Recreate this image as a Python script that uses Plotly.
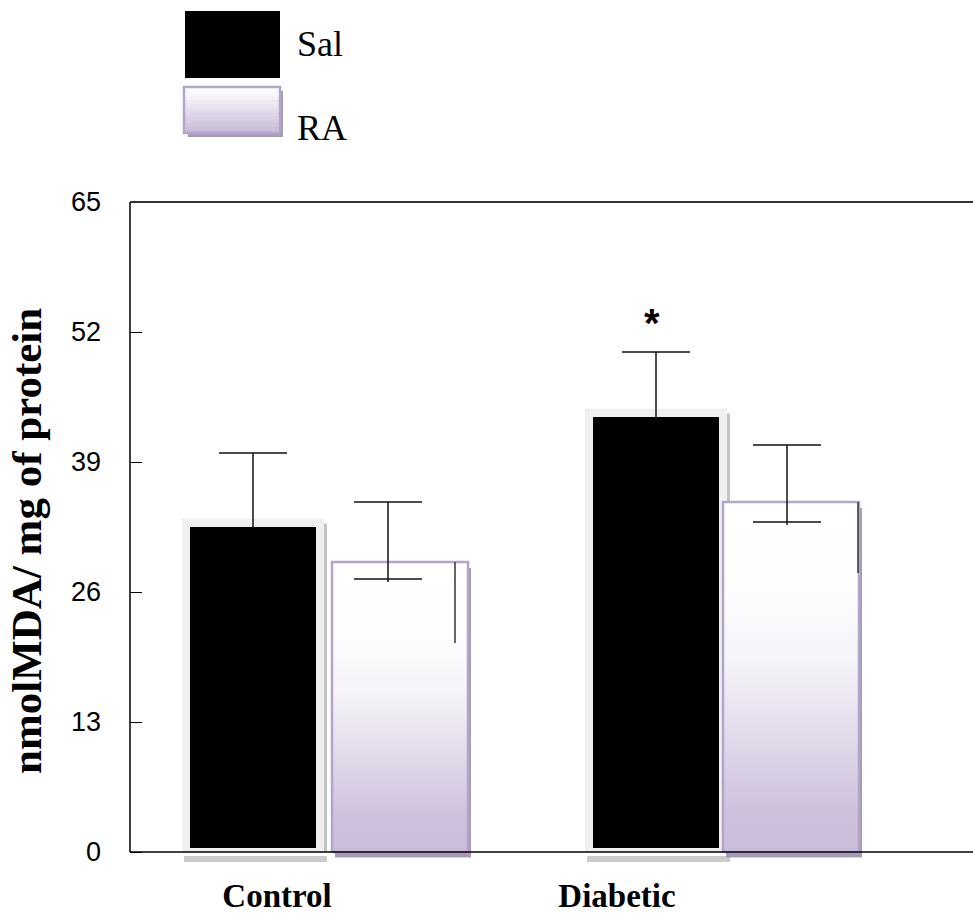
import plotly.graph_objects as go

# ---------------- data ----------------
groups = ["Control", "Diabetic"]
series = ["Sal", "RA"]
sal_mean = [32.5, 43.5]
sal_sem = [7.4, 6.5]
ra_mean = [29.0, 35.0]
ra_sem_up = [6.0, 5.7]
ra_sem_low = [1.7, 2.0]
ra_trail_low = [8.1, 7.1]
signif = ["", "*"]
y_ticks = [0, 13, 26, 39, 52, 65]

# ---------------- layout constants (x in plot-pixel units) ----------------
M_L, M_R, M_T, M_B = 130, 0, 202, 58
FIG_W, FIG_H = 973, 921
PW = FIG_W - M_L - M_R
PH = FIG_H - M_T - M_B
Y_MIN, Y_MAX = -1.1, 65
group_label_x = [147, 487]
sal_center = [123, 526]
ra_center = [270, 661]
SAL_HALF = 63
FRAME_HALF = 71
RA_HALF = 68
ra_err_x = [258, 657]
ra_trail_x = [325, 728]
CAP_HALF = 34

GRAD = [[0, '#cbbcda'], [0.12, '#cfc1dd'], [0.35, '#e4dcec'],
        [0.55, '#f6f3f9'], [0.75, '#fdfdfe'], [1, '#ffffff']]
PURPLE = '#b4a5cd'
PSHADOW = '#a59db5'


def rect(x0, x1, y0, y1):
    return [x0, x1, x1, x0, x0], [y0, y0, y1, y1, y0]


def px_x(px):
    return (px - M_L) / PW


def px_y(py):
    return (FIG_H - M_B - py) / PH


fig = go.Figure()


def add_poly(xs, ys, fill, line_color=None, line_w=0):
    fig.add_trace(go.Scatter(
        x=xs, y=ys, mode='lines', fill='toself', fillcolor=fill,
        line=dict(color=line_color or fill, width=line_w),
        hoverinfo='skip', showlegend=False))


# Sal bars (black with light frame and shadow)
for i, g in enumerate(groups):
    c, m = sal_center[i], sal_mean[i]
    xs, ys = rect(c + FRAME_HALF, c + FRAME_HALF + 3, 0, m + 0.35)
    add_poly(xs, ys, '#c4c4c4')
    xs, ys = rect(c - FRAME_HALF + 2, c + FRAME_HALF + 3, -1.0, -0.4)
    add_poly(xs, ys, '#cbcbcb')
    xs, ys = rect(c - FRAME_HALF, c + FRAME_HALF, 0, m + 0.85)
    add_poly(xs, ys, '#f0f0f0')
    xs, ys = rect(c - SAL_HALF, c + SAL_HALF, 0.4, m)
    add_poly(xs, ys, '#000000')

# RA bars (gradient with purple border and shadow)
for i, g in enumerate(groups):
    c, m = ra_center[i], ra_mean[i]
    xs, ys = rect(c - RA_HALF + 3, c + RA_HALF + 3, -0.55, m - 0.6)
    add_poly(xs, ys, PSHADOW)
    xs, ys = rect(c - RA_HALF, c + RA_HALF, 0, m)
    fig.add_trace(go.Scatter(
        x=xs, y=ys, mode='lines', fill='toself',
        fillgradient=dict(type='vertical', colorscale=GRAD, start=0, stop=m),
        line=dict(color=PURPLE, width=2.5),
        hoverinfo='skip', showlegend=False))

# error bars
ex, ey = [], []
for i in range(len(groups)):
    c, m, s = sal_center[i], sal_mean[i], sal_sem[i]
    ex += [c, c, None, c - CAP_HALF, c + CAP_HALF, None]
    ey += [m, m + s, None, m + s, m + s, None]
    c, m = ra_err_x[i], ra_mean[i]
    up, lo = m + ra_sem_up[i], m - ra_sem_low[i]
    ex += [c, c, None, c - CAP_HALF, c + CAP_HALF, None, c - CAP_HALF, c + CAP_HALF, None]
    ey += [lo - 0.3, up, None, up, up, None, lo, lo, None]
fig.add_trace(go.Scatter(x=ex, y=ey, mode='lines', line=dict(color='#111', width=1.5),
                         hoverinfo='skip', showlegend=False))
tx, ty = [], []
for i in range(len(groups)):
    tx += [ra_trail_x[i], ra_trail_x[i], None]
    ty += [ra_mean[i], ra_mean[i] - ra_trail_low[i], None]
fig.add_trace(go.Scatter(x=tx, y=ty, mode='lines', line=dict(color='#333', width=1.5),
                         hoverinfo='skip', showlegend=False))

annotations = []
for i, s in enumerate(signif):
    if s:
        annotations.append(dict(x=sal_center[i] - 4, y=sal_mean[i] + sal_sem[i] + 2.9,
                                xref='x', yref='y', text='<b>%s</b>' % s, showarrow=False,
                                font=dict(family='Liberation Sans', size=40, color='black'),
                                xanchor='center', yanchor='middle'))

# y-axis title
annotations.append(dict(x=px_x(26), y=px_y(541), xref='paper', yref='paper',
                        text='<b>nmolMDA/ mg of protein</b>', textangle=-90, showarrow=False,
                        font=dict(family='Liberation Serif', size=43, color='black'),
                        xanchor='center', yanchor='middle'))

# legend
shapes = []
shapes.append(dict(type='rect', xref='paper', yref='paper', x0=px_x(185), x1=px_x(280),
                   y0=px_y(78), y1=px_y(11), fillcolor='black', line=dict(width=0)))
shapes.append(dict(type='rect', xref='paper', yref='paper', x0=px_x(188), x1=px_x(283),
                   y0=px_y(137), y1=px_y(91), fillcolor=PSHADOW, line=dict(width=0)))
n_strip = 14
top_c = (255, 255, 255)
bot_c = (0xcb, 0xbc, 0xda)
for k in range(n_strip):
    f = k / (n_strip - 1)
    col = tuple(round(top_c[j] + (bot_c[j] - top_c[j]) * f) for j in range(3))
    y_top = 87 + (133 - 87) * k / n_strip
    y_bot = 87 + (133 - 87) * (k + 1) / n_strip
    shapes.append(dict(type='rect', xref='paper', yref='paper', x0=px_x(184), x1=px_x(280),
                       y0=px_y(y_bot + 0.5), y1=px_y(y_top), fillcolor='rgb(%d,%d,%d)' % col,
                       line=dict(width=0)))
shapes.append(dict(type='rect', xref='paper', yref='paper', x0=px_x(184), x1=px_x(280),
                   y0=px_y(133), y1=px_y(87), fillcolor='rgba(0,0,0,0)',
                   line=dict(color=PURPLE, width=2.5)))
annotations.append(dict(x=px_x(295), y=px_y(44), xref='paper', yref='paper', text=series[0],
                        showarrow=False, xanchor='left', yanchor='middle',
                        font=dict(family='Liberation Serif', size=36, color='black')))
annotations.append(dict(x=px_x(295), y=px_y(128), xref='paper', yref='paper', text=series[1],
                        showarrow=False, xanchor='left', yanchor='middle',
                        font=dict(family='Liberation Serif', size=36, color='black')))

# frame lines
y_axis_paper = px_y(852)
shapes.append(dict(type='line', xref='paper', yref='paper', x0=0, x1=0, y0=y_axis_paper, y1=1,
                   line=dict(color='black', width=1.5), layer='above'))
shapes.append(dict(type='line', xref='paper', yref='paper', x0=0, x1=1, y0=1, y1=1,
                   line=dict(color='#333', width=2), layer='above'))
shapes.append(dict(type='line', xref='paper', yref='paper', x0=0, x1=1, y0=y_axis_paper,
                   y1=y_axis_paper, line=dict(color='black', width=1.5), layer='above'))

fig.update_layout(
    width=FIG_W, height=FIG_H,
    margin=dict(l=M_L, r=M_R, t=M_T, b=M_B),
    paper_bgcolor='white', plot_bgcolor='white',
    showlegend=False,
    shapes=shapes, annotations=annotations,
    xaxis=dict(range=[0, PW], showgrid=False, zeroline=False, showline=False,
               tickmode='array', tickvals=group_label_x, ticktext=['<b>%s</b>' % g for g in groups],
               ticks='', ticklabelstandoff=10,
               tickfont=dict(family='Liberation Serif', size=33, color='black'),
               fixedrange=True),
    yaxis=dict(range=[Y_MIN, Y_MAX], showgrid=False, zeroline=False, showline=False,
               tickmode='array', tickvals=y_ticks, ticks='inside', ticklen=12,
               tickcolor='black', tickwidth=1, ticklabelstandoff=28,
               tickfont=dict(family='Liberation Sans', size=27, color='black'),
               fixedrange=True),
)

fig.write_html("out.html")
